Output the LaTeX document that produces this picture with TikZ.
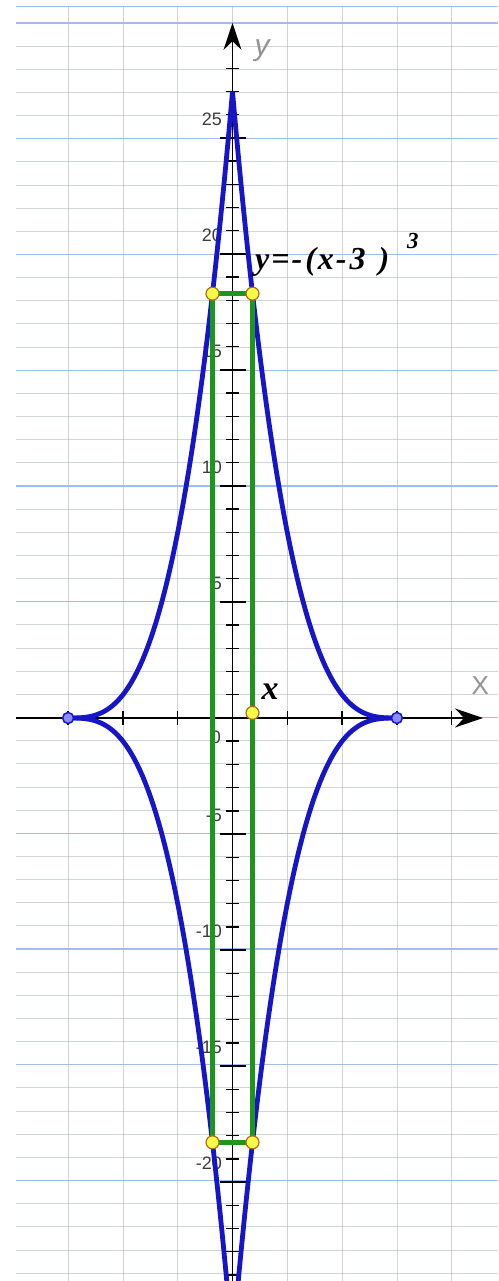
\documentclass[tikz,border=0pt]{standalone}
\usepackage{fontspec}
\setmainfont{Liberation Serif}
\newfontfamily\arialf{Liberation Sans}
\usetikzlibrary{arrows.meta}
\definecolor{gridgray}{RGB}{208,212,222}
\definecolor{gridblue}{RGB}{160,190,236}
\definecolor{curveblue}{RGB}{22,22,200}
\definecolor{rectgreen}{RGB}{30,150,30}
\definecolor{ptyellow}{RGB}{250,250,70}
\definecolor{ptedge}{RGB}{170,110,20}
\definecolor{bptfill}{RGB}{140,140,250}
\definecolor{labgray}{RGB}{60,60,60}
\begin{document}
\begin{tikzpicture}[x=54.8pt,y=23.2pt,
  gridh/.style={draw=gridgray,line width=0.9pt},
  gridhb/.style={draw=gridblue,line width=1.1pt},
  gridv/.style={draw=gridgray!85!black,line width=0.8pt,opacity=0.6},
  axisline/.style={draw=black,line width=1.4pt},
  ticksm/.style={draw=black,line width=1.4pt},
  ticklab/.style={font=\arialf\fontsize{18}{18}\selectfont,text=labgray,anchor=east,inner sep=0pt},
  curve/.style={draw=curveblue,line width=4.8pt},
  rectline/.style={draw=rectgreen,line width=4.6pt},
  ypt/.style={circle,draw=ptedge,fill=ptyellow,line width=1.2pt,minimum size=13pt,inner sep=0pt},
  bpt/.style={circle,draw=curveblue,fill=bptfill,line width=1.5pt,minimum size=11pt,inner sep=0pt},
  axlab/.style={font=\arialf\fontsize{26}{26}\selectfont,text=gray!85,inner sep=0pt},
  formula/.style={font=\bfseries\itshape\fontsize{32}{32}\selectfont,inner sep=0pt}]
\useasboundingbox (-4.2427,-24.267) rectangle (4.845,30.948);
\fill[white] (-4.2427,-24.267) rectangle (4.845,30.948);
\begin{scope}
\clip (-4.2427,-24.267) rectangle (4.845,30.948);
% paper grid
\foreach \k in {0,...,54}{
  \pgfmathsetmacro\yy{(718-23-23.15*\k)/23.2}
  \pgfmathtruncatemacro\mm{mod(\k,5)}
  \ifnum\mm=0
    \draw[gridhb] (-3.951,\yy) -- (4.845,\yy);
  \else
    \draw[gridh] (-3.951,\yy) -- (4.845,\yy);
  \fi
}
\draw[gridhb] (-3.951,30.65) -- (4.845,30.65);
\foreach \i in {-3,...,4}{
  \draw[gridv] (\i,30.65) -- (\i,-24.3);
}
% tick labels
\foreach \v in {25,20,15,10,5,-5,-10,-15,-20}{
  \node[ticklab] (lab\v) at ([xshift=-10.5pt,yshift=18.5pt]0,\v) {\v};
}
\node[ticklab] (lab0) at ([xshift=-11.5pt,yshift=-19pt]0,0) {0};
% axes
\coordinate (xl) at (-3.951,0);
\coordinate (xr) at (4.571,0);
\coordinate (yb) at (0,-24.4);
\coordinate (yt) at (0,29.96);
\draw[axisline,-{Stealth[length=28pt,width=19pt]}] (xl) -- (xr);
\draw[axisline,-{Stealth[length=27pt,width=18pt]}] (yb) -- (yt);
\foreach \i in {-3,-2,-1,1,2,3,4}{
  \draw[ticksm] (\i,0) ++(0,-7pt) -- ++(0,14pt);
}
\foreach \k in {-24,...,28}{
  \ifnum\k=0\else
  \pgfmathtruncatemacro\mm{mod(abs(\k),5)}
  \ifnum\mm=0
    \draw[ticksm] (0,\k) ++(-13pt,0) -- ++(26pt,0);
  \else
    \draw[ticksm] (0,\k) ++(-6.5pt,0) -- ++(13pt,0);
  \fi
  \fi
}
\node[axlab,font=\arialf\itshape\fontsize{30}{30}\selectfont,anchor=base west] (ylab) at (0.40,28.55) {y};
\node[axlab,anchor=base west] (xlab) at (4.36,1.0) {X};
% curves
\draw[curve,line join=miter] plot[domain=-3:0,samples=80,smooth] (\x,{(3+\x)^3}) -- plot[domain=0:3,samples=80,smooth] (\x,{(3-\x)^3});
\draw[curve] plot[domain=-3:0,samples=80,smooth] (\x,{-(3+\x)^3});
\draw[curve] plot[domain=0:3,samples=80,smooth] (\x,{-(3-\x)^3});
% green rectangle
\coordinate (tl) at (-0.365,18.29);
\coordinate (tr) at (0.365,18.29);
\coordinate (bl) at (-0.365,-18.29);
\coordinate (br) at (0.365,-18.29);
\draw[rectline] (tl) -- (tr);
\draw[rectline] (bl) -- (br);
\draw[rectline] (tl) -- (bl);
\draw[rectline] (tr) -- (br);
\node[ypt] (ptl) at (tl) {};
\node[ypt] (ptr) at (tr) {};
\node[ypt] (pbl) at (bl) {};
\node[ypt] (pbr) at (br) {};
\node[ypt] (px) at (0.365,0.22) {};
\node[bpt] (cl) at (-3,0) {};
\node[bpt] (cr) at (3,0) {};
% labels
\node[formula,anchor=base west] (f) at (0.41,19.31) {y\kern2pt=\kern2pt-\kern3pt(\kern2pt x\kern2pt-\kern3pt3\kern13pt)\kern18pt\raisebox{21pt}{\fontsize{23}{23}\selectfont 3}};
\node[formula,anchor=base west,font=\bfseries\itshape\fontsize{34}{34}\selectfont] (xv) at (0.53,0.78) {x};
\end{scope}
\end{tikzpicture}
\end{document}
